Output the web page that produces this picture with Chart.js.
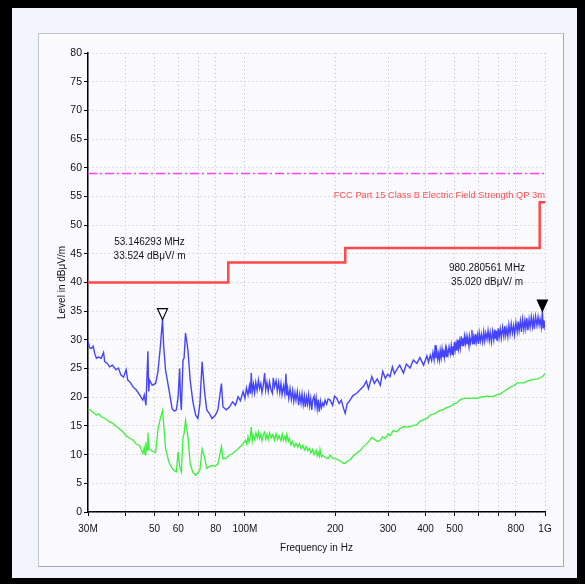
<!DOCTYPE html>
<html>
<head>
<meta charset="utf-8">
<title>Radiated emission scan</title>
<script src="https://cdn.jsdelivr.net/npm/chart.js@4.4.1/dist/chart.umd.min.js"></script>
<style>
    html, body { margin: 0; padding: 0; }
    body { width: 585px; height: 584px; background: #000; position: relative; overflow: hidden; }
    #frame { position: absolute; left: 12px; top: 8px; width: 565px; height: 570px; background: #f4f4fc; }
    #panel { position: absolute; left: 38px; top: 33px; width: 526px; height: 534px; box-sizing: border-box;
             background: #fafaff; border: 1px solid #c4c4cc; border-right-color: #a8a8b0; border-bottom-color: #a8a8b0; }
    #chartWrap { position: absolute; left: 38px; top: 33px; width: 526px; height: 534px; }
</style>
</head>
<body>
<div id="frame"></div>
<div id="panel"></div>
<div id="chartWrap"><canvas id="scanChart"></canvas></div>
<script>
// Frequencies in MHz, levels in dBuV/m

// Peak trace
const blueFreq = [
    30, 30.4, 30.8, 31.2, 31.6, 32.0, 32.5, 33.2, 33.8, 34.1,
    34.8, 35.4, 36.2, 37.2, 37.9, 38.6, 39.4, 40.2, 40.7, 41.5,
    42.4, 43.4, 44.6, 45.2, 45.7, 46.2, 46.8, 47.5, 47.8, 48.1,
    49.1, 50.4, 51.3, 52.2, 53.146, 53.6, 54.4, 55.8, 57.2, 58.2,
    59.1, 59.9, 60.6, 61.0, 61.4, 62.2, 62.7, 63.4, 64.6, 65.7,
    67.1, 68.5, 69.7, 70.8, 72.0, 73.3, 74.6, 76.1, 77.7, 79.8,
    81.3, 83.5, 84.5, 86.7, 88.8, 91.0, 93.0, 94.9, 96.6, 98.6,
    100.0, 101.2, 102.4, 103.5, 104.3, 105.0, 105.8, 106.8, 107.7, 108.7,
    109.8, 110.9, 111.9, 113.0, 114.0, 115.2, 116.3, 117.3, 118.4, 119.6,
    120.8, 122.0, 123.5, 124.3, 125.5, 127.0, 128.2, 129.5, 130.7, 131.9,
    133.0, 134.5, 135.8, 137.0, 137.8, 138.8, 140.0, 141.4, 142.8, 144.2,
    145.5, 146.8, 148.0, 149.5, 151.0, 152.3, 153.8, 155.0, 156.4, 157.8,
    159.0, 160.3, 161.7, 163.0, 164.3, 165.7, 167.0, 168.4, 170.0, 171.3,
    172.7, 174.2, 175.5, 177.0, 178.5, 180.0, 181.7, 183.3, 185.0, 187.2,
    189.3, 192.3, 196.0, 199.0, 202.4, 206.0, 209.5, 213.0, 215.8, 219.0,
    224.1, 229.0, 235.9, 242.0, 248.4, 254.0, 258.0, 264.9, 270.0, 276.0,
    282.5, 288.0, 293.6, 299.0, 304.6, 310.0, 315.0, 320.6, 328.0, 337.5,
    345.0, 355.3, 364.0, 374.1, 383.0, 393.8, 404.0, 409.0, 414.6, 419.0,
    423.0, 427.0, 430.8, 433.0, 436.0, 439.0, 441.9, 445.0, 447.6, 451.0,
    454.0, 457.0, 459.2, 462.0, 466.0, 469.0, 471.0, 475.0, 479.0, 483.4,
    487.0, 490.0, 493.0, 495.9, 499.0, 502.0, 505.5, 508.9, 512.0, 515.0,
    518.5, 522.0, 526.0, 530.0, 533.0, 535.7, 539.0, 543.0, 546.0, 549.6,
    553.0, 558.0, 561.0, 565.0, 568.0, 570.8, 574.0, 578.6, 582.0, 586.0,
    590.0, 595.0, 600.0, 604.0, 609.0, 614.0, 620.0, 625.0, 630.0, 635.0,
    641.0, 646.0, 652.0, 657.0, 663.0, 669.0, 675.0, 680.0, 684.0, 688.0,
    692.5, 698.0, 703.0, 709.0, 715.0, 722.0, 729.0, 735.0, 740.0, 746.0,
    752.0, 758.0, 765.0, 772.0, 779.0, 786.0, 792.0, 800.0, 808.0, 814.0,
    820.0, 828.0, 835.0, 842.0, 850.0, 857.0, 863.0, 870.0, 877.0, 885.0,
    892.0, 900.0, 908.0, 915.0, 922.0, 930.0, 940.0, 948.0, 956.0, 963.0,
    972.0, 980.28, 985.0, 990.0, 995.0, 1000.0
];
const blueLevel = [
    29.7, 28.6, 28.5, 28.9, 27.6, 26.8, 27.0, 26.8, 27.8, 26.2,
    25.9, 25.3, 25.6, 24.8, 25.1, 23.9, 23.5, 24.8, 23.0, 22.6,
    21.8, 21.3, 20.4, 19.9, 19.5, 20.4, 18.6, 28.0, 21.0, 23.0,
    22.1, 22.4, 24.4, 28.5, 33.524, 29.0, 24.7, 21.4, 18.0, 17.6,
    17.8, 20.1, 25.0, 20.0, 17.8, 26.5, 26.8, 31.2, 28.2, 23.0,
    19.2, 16.9, 16.3, 18.9, 26.2, 21.2, 17.8, 17.2, 16.3, 16.9,
    17.8, 22.4, 18.3, 17.8, 18.3, 19.2, 18.6, 20.1, 19.4, 21.0,
    19.8, 21.6, 20.4, 22.0, 20.6, 24.2, 20.9, 22.3, 20.8, 22.6,
    21.2, 23.0, 21.5, 22.4, 20.8, 22.1, 24.2, 21.3, 22.6, 21.0,
    22.7, 21.4, 20.7, 23.4, 21.8, 22.9, 21.1, 22.6, 20.8, 22.4,
    20.5, 22.0, 20.6, 24.1, 20.3, 21.6, 19.8, 21.5, 19.6, 21.2,
    19.3, 20.8, 19.5, 21.0, 18.6, 20.5, 19.0, 20.6, 18.7, 20.2,
    18.3, 20.0, 18.8, 20.4, 18.5, 19.8, 17.8, 19.6, 20.2, 18.4,
    19.9, 18.0, 19.6, 17.5, 19.3, 18.2, 19.0, 18.5, 19.5, 18.8,
    19.7, 19.5, 18.6, 20.2, 19.8, 18.9, 19.5, 18.1, 17.2, 18.8,
    19.5, 20.3, 20.7, 21.3, 21.9, 22.8, 21.5, 23.6, 22.4, 23.2,
    22.1, 24.5, 23.3, 24.0, 23.6, 25.3, 24.1, 24.8, 25.6, 24.2,
    25.8, 25.1, 26.5, 25.9, 26.9, 25.6, 27.2, 26.1, 27.3, 26.4,
    27.8, 26.5, 29.1, 26.8, 28.0, 26.6, 27.6, 26.5, 28.2, 26.9,
    28.4, 27.0, 28.2, 26.9, 28.5, 27.1, 28.3, 27.4, 28.8, 27.6,
    29.0, 27.5, 28.9, 27.9, 29.6, 28.2, 29.4, 28.1, 30.0, 28.5,
    29.8, 28.6, 30.6, 29.0, 30.3, 28.9, 30.6, 29.4, 30.5, 29.2,
    30.4, 28.9, 30.6, 29.5, 30.2, 31.7, 29.2, 30.5, 29.2, 31.0,
    29.6, 30.9, 29.3, 31.2, 29.8, 31.0, 29.6, 31.4, 29.8, 31.2,
    30.1, 31.6, 29.9, 31.3, 29.6, 31.5, 30.0, 31.8, 30.2, 31.6,
    29.8, 32.0, 30.4, 31.9, 30.3, 32.2, 30.6, 32.4, 30.8, 32.0,
    30.6, 32.6, 31.0, 32.8, 31.2, 32.5, 30.9, 33.0, 31.4, 33.2,
    31.6, 33.3, 31.4, 33.6, 31.8, 33.4, 32.0, 33.8, 31.7, 33.6,
    32.2, 34.0, 32.3, 33.7, 31.9, 34.1, 32.5, 34.0, 32.6, 33.6,
    32.2, 35.02, 32.1, 33.5, 32.4, 33.2
];

// Average trace
const greenFreq = [
    30, 30.8, 31.96, 32.6, 33.2, 34.2, 35.4, 36.2, 37.2, 38.0,
    38.8, 39.6, 40.2, 41.2, 42.4, 43.5, 44.6, 45.2, 45.7, 46.2,
    46.5, 46.8, 47.2, 47.5, 47.9, 48.1, 49.1, 50.4, 51.3, 52.2,
    53.146, 53.8, 54.4, 55.8, 57.2, 58.3, 59.1, 59.9, 60.6, 61.4,
    62.2, 62.7, 63.4, 64.6, 65.7, 67.1, 68.5, 69.7, 70.8, 72.0,
    73.3, 74.6, 76.1, 77.7, 79.8, 81.3, 83.5, 84.5, 86.7, 88.8,
    91.0, 94.9, 98.6, 100.5, 101.5, 102.4, 103.2, 104.0, 105.0, 105.8,
    106.5, 107.7, 108.8, 110.0, 111.0, 111.9, 113.0, 114.0, 115.2, 116.3,
    117.4, 118.5, 119.6, 120.8, 122.3, 124.0, 125.5, 127.0, 128.5, 130.0,
    131.9, 133.2, 134.5, 136.0, 137.0, 138.0, 139.5, 140.6, 142.3, 144.0,
    146.0, 148.0, 150.0, 152.0, 154.0, 156.0, 158.0, 160.0, 162.0, 164.1,
    166.0, 168.0, 170.0, 172.7, 174.2, 175.5, 177.0, 178.0, 180.0, 181.7,
    185.0, 189.3, 192.3, 197.0, 202.4, 208.0, 213.0, 215.8, 220.0, 224.1,
    230.0, 235.9, 242.0, 248.4, 256.0, 264.9, 270.0, 276.0, 282.5, 288.0,
    293.6, 300.0, 304.6, 312.0, 320.6, 328.0, 337.5, 346.0, 355.3, 364.0,
    374.1, 383.0, 393.8, 404.0, 414.6, 423.0, 430.8, 441.9, 459.2, 470.0,
    483.4, 495.0, 508.9, 520.0, 535.7, 549.6, 565.0, 578.6, 595.0, 609.1,
    625.0, 641.2, 660.0, 675.0, 692.5, 710.0, 729.1, 748.0, 767.5, 788.0,
    808.0, 830.0, 850.5, 872.0, 895.4, 918.0, 942.5, 965.0, 985.0, 1000.0
];
const greenLevel = [
    18.0, 17.6, 16.9, 17.1, 16.6, 16.3, 15.7, 15.5, 14.9, 14.6,
    14.2, 13.7, 13.3, 12.9, 12.5, 11.8, 11.6, 10.8, 10.2, 11.2,
    10.0, 12.2, 10.8, 13.8, 11.0, 10.9, 10.6, 10.4, 14.3, 16.2,
    17.7, 14.3, 11.1, 8.7, 7.6, 7.2, 7.0, 10.5, 8.0, 7.0,
    13.1, 13.6, 16.0, 13.1, 8.4, 6.9, 6.4, 6.8, 7.3, 11.0,
    9.6, 7.6, 7.9, 8.1, 8.0, 8.4, 11.4, 9.3, 9.4, 9.9,
    10.2, 11.0, 11.9, 12.5, 11.8, 13.1, 12.2, 12.8, 14.8, 12.4,
    13.4, 12.6, 13.8, 12.9, 13.9, 12.8, 13.6, 12.4, 13.5, 13.9,
    12.7, 13.5, 12.6, 13.8, 12.9, 13.5, 12.5, 13.6, 12.6, 13.3,
    12.4, 13.6, 12.5, 13.2, 12.4, 13.5, 12.3, 12.8, 11.7, 12.3,
    11.4, 12.0, 11.3, 11.9, 11.0, 11.6, 10.8, 11.4, 10.7, 11.1,
    10.3, 10.9, 10.0, 10.8, 9.8, 10.4, 9.7, 10.9, 9.6, 9.9,
    9.5, 9.3, 9.9, 9.3, 9.2, 8.9, 8.5, 8.5, 8.9, 9.1,
    9.8, 10.3, 10.7, 11.4, 12.0, 13.0, 12.7, 12.3, 12.5, 13.1,
    12.8, 13.6, 13.3, 14.2, 14.0, 14.5, 14.9, 14.8, 14.9, 15.1,
    15.2, 15.8, 16.1, 16.3, 16.9, 17.0, 17.2, 17.6, 17.9, 18.2,
    18.4, 18.8, 19.0, 19.5, 19.8, 19.8, 19.8, 19.9, 19.8, 20.0,
    20.1, 20.2, 20.1, 20.2, 20.4, 20.6, 21.0, 21.4, 21.8, 22.0,
    22.5, 22.5, 22.5, 22.8, 23.0, 23.1, 23.2, 23.4, 23.7, 24.1
];

// FCC Part 15 Class B QP limit (3 m), drawn as steps
const limitFreq = [30, 88, 88, 216, 216, 960, 960, 1000];
const limitLevel = [40, 40, 43.5, 43.5, 46, 46, 54, 54];

// Dash-dot reference line
const refFreq = [30, 1000];
const refLevel = [59, 59];

// Marker readouts
const markerFreq = [53.146293, 980.280561];
const markerLevel = [33.524, 35.020];
const markerFilled = [false, true];

// Axis ticks
const xTickValues = [30, 40, 50, 60, 70, 80, 100, 200, 300, 400, 500, 600, 700, 800, 1000];
const xTickLabels = ['30M', '', '50', '60', '', '80', '100M', '200', '300', '400', '500', '', '', '800', '1G'];
const yTickValues = [];
for (let v = 0; v <= 80; v += 2.5) yTickValues.push(v);

const FONT = "'Liberation Sans', Arial, sans-serif";

function toPoints(xs, ys) {
    return xs.map((x, i) => ({ x: x, y: ys[i] }));
}

const markerPlugin = {
    id: 'markers',
    afterDatasetsDraw(chart) {
        const ctx = chart.ctx;
        const xs = chart.scales.x;
        const ys = chart.scales.y;
        const area = chart.chartArea;

        // marker triangles, tip on the measured level
        markerFreq.forEach((f, i) => {
            const px = xs.getPixelForValue(f);
            const py = ys.getPixelForValue(markerLevel[i]);
            ctx.save();
            ctx.beginPath();
            ctx.moveTo(px - 5, py - 11);
            ctx.lineTo(px + 5, py - 11);
            ctx.lineTo(px, py);
            ctx.closePath();
            ctx.lineWidth = 1.2;
            ctx.strokeStyle = '#000';
            ctx.fillStyle = markerFilled[i] ? '#000' : '#fafaff';
            ctx.fill();
            ctx.stroke();
            ctx.restore();
        });

        ctx.save();
        ctx.font = '10px ' + FONT;
        ctx.fillStyle = '#111';
        ctx.textAlign = 'center';
        ctx.textBaseline = 'middle';
        // readout for marker 1
        let tx = xs.getPixelForValue(48.1);
        ctx.fillText(markerFreq[0].toFixed(6) + ' MHz', tx, 209);
        ctx.fillText(markerLevel[0].toFixed(3) + ' dB\u03bcV/ m', tx, 223);
        // readout for marker 2
        tx = xs.getPixelForValue(641);
        ctx.fillText(markerFreq[1].toFixed(6) + ' MHz', tx, 235);
        ctx.fillText(markerLevel[1].toFixed(3) + ' dB\u03bcV/ m', tx, 249);

        // limit line name
        ctx.font = '9.3px ' + FONT;
        ctx.fillStyle = '#ff5050';
        ctx.textAlign = 'right';
        ctx.fillText('FCC Part 15 Class B Electric Field Strength QP 3m', area.right, ys.getPixelForValue(55.2));

        // axis titles
        ctx.font = '10px ' + FONT;
        ctx.fillStyle = '#111';
        ctx.textAlign = 'center';
        ctx.fillText('Frequency in Hz', (area.left + area.right) / 2, 515);
        ctx.translate(24, (area.top + area.bottom) / 2);
        ctx.rotate(-Math.PI / 2);
        ctx.fillText('Level in dB\u03bcV/m', 0, 0);
        ctx.restore();
    }
};

const ctx = document.getElementById('scanChart').getContext('2d');
new Chart(ctx, {
    type: 'line',
    data: {
        datasets: [
            {
                label: 'Limit',
                data: toPoints(limitFreq, limitLevel),
                borderColor: '#ff4848',
                borderWidth: 2.5,
                pointRadius: 0,
                tension: 0
            },
            {
                label: 'Reference',
                data: toPoints(refFreq, refLevel),
                borderColor: '#ff40ff',
                borderWidth: 1.5,
                borderDash: [9, 3, 2, 3],
                pointRadius: 0
            },
            {
                label: 'Average',
                data: toPoints(greenFreq, greenLevel),
                borderColor: '#3cf03c',
                borderWidth: 1.3,
                pointRadius: 0,
                tension: 0
            },
            {
                label: 'Peak',
                data: toPoints(blueFreq, blueLevel),
                borderColor: '#4444ff',
                borderWidth: 1.4,
                pointRadius: 0,
                tension: 0
            }
        ]
    },
    options: {
        responsive: true,
        maintainAspectRatio: false,
        animation: false,
        layout: {
            padding: { top: 20, right: 19, left: 0, bottom: 0 }
        },
        plugins: {
            legend: { display: false },
            tooltip: { enabled: false }
        },
        scales: {
            x: {
                type: 'logarithmic',
                min: 30,
                max: 1000,
                afterBuildTicks: (scale) => {
                    scale.ticks = xTickValues.map(v => ({ value: v }));
                },
                afterFit: (scale) => {
                    scale.height = 55;
                },
                ticks: {
                    autoSkip: false,
                    maxRotation: 0,
                    padding: 7,
                    color: '#111',
                    font: { family: FONT, size: 10 },
                    callback: (value) => {
                        const i = xTickValues.indexOf(value);
                        return i >= 0 ? xTickLabels[i] : '';
                    }
                },
                grid: {
                    color: '#c4c4c4',
                    tickColor: '#000',
                    tickLength: 4,
                    lineWidth: 1
                },
                border: {
                    color: '#000',
                    width: 1.5,
                    dash: [1, 3]
                }
            },
            y: {
                min: 0,
                max: 80,
                afterBuildTicks: (scale) => {
                    scale.ticks = yTickValues.map(v => ({ value: v }));
                },
                afterFit: (scale) => {
                    scale.width = 50;
                },
                ticks: {
                    padding: 2,
                    color: '#111',
                    font: { family: FONT, size: 10.5 },
                    callback: (value) => (value % 5 === 0 ? String(value) : '')
                },
                grid: {
                    color: '#c4c4c4',
                    tickColor: '#000',
                    tickLength: 4,
                    lineWidth: 1
                },
                border: {
                    color: '#000',
                    width: 1.5,
                    dash: [1, 3]
                }
            }
        }
    },
    plugins: [markerPlugin]
});
</script>
</body>
</html>
